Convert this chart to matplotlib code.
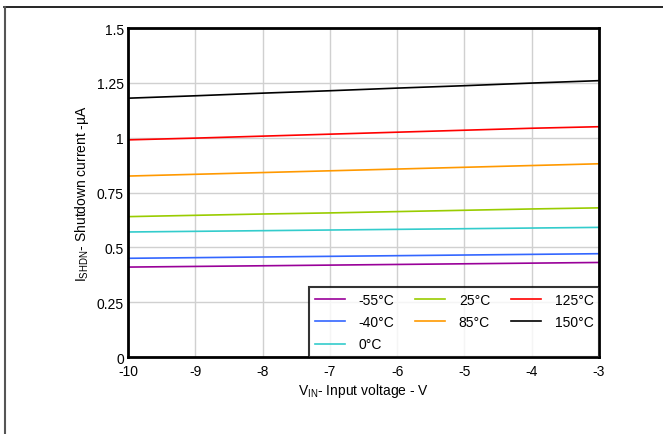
import numpy as np
import matplotlib.pyplot as plt
from matplotlib.lines import Line2D

plt.rcParams['font.family'] = ['Liberation Sans', 'DejaVu Sans']
plt.rcParams['mathtext.fontset'] = 'custom'
plt.rcParams['mathtext.rm'] = 'Liberation Sans'
plt.rcParams['mathtext.it'] = 'Liberation Sans'
plt.rcParams['axes.unicode_minus'] = False

vin = [-10, -9, -8, -7, -6, -5, -4, -3]
labels = ['-55°C', '-40°C', '0°C', '25°C', '85°C', '125°C', '150°C']
colors = ['#990099', '#3366ff', '#33cccc', '#99cc00', '#ff9900', '#ff0000', '#000000']
i_m55 = [0.410, 0.413, 0.416, 0.419, 0.422, 0.425, 0.428, 0.431]
i_m40 = [0.450, 0.453, 0.456, 0.459, 0.462, 0.465, 0.468, 0.471]
i_0 = [0.570, 0.573, 0.576, 0.579, 0.582, 0.585, 0.588, 0.591]
i_25 = [0.640, 0.646, 0.652, 0.657, 0.663, 0.669, 0.675, 0.680]
i_85 = [0.825, 0.833, 0.841, 0.849, 0.857, 0.865, 0.873, 0.881]
i_125 = [0.990, 0.998, 1.007, 1.016, 1.025, 1.034, 1.043, 1.050]
i_150 = [1.180, 1.191, 1.203, 1.214, 1.226, 1.237, 1.249, 1.260]
series = [i_m55, i_m40, i_0, i_25, i_85, i_125, i_150]

fig = plt.figure(figsize=(6.63, 4.35), dpi=100)
ax = fig.add_axes([0.193, 0.177, 0.7105, 0.7563])

for vals, lab, c in zip(series, labels, colors):
    ax.plot(vin, vals, color=c, lw=1.2, label=lab)

ax.set_xlim(-10, -3)
ax.set_ylim(0, 1.5)
ax.set_xticks(range(-10, -2))
ax.set_yticks([0, 0.25, 0.5, 0.75, 1, 1.25, 1.5])
ax.set_yticklabels(['0', '0.25', '0.5', '0.75', '1', '1.25', '1.5'])
ax.tick_params(length=0, labelsize=10)
ax.tick_params(axis='x', pad=5)
ax.tick_params(axis='y', pad=3)
ax.grid(True, color='#d0d0d0', lw=1)
for s in ax.spines.values():
    s.set_linewidth(2)
    s.set_color('black')

ax.set_xlabel('V$_{\\mathregular{IN}}$- Input voltage - V', fontsize=10, labelpad=2)
ax.set_ylabel('I$_{\\mathregular{SHDN}}$- Shutdown current -µA', fontsize=10, labelpad=4)

leg = ax.legend(ncol=3, loc='lower right', fontsize=10, frameon=True, fancybox=False,
                borderaxespad=0, handlelength=2.15, handletextpad=1.0,
                columnspacing=1.5, labelspacing=0.6, borderpad=0.4)
leg.get_frame().set_edgecolor('black')
leg.get_frame().set_linewidth(1.5)

fig.add_artist(Line2D([0.006, 1], [0.982, 0.982], color='black', lw=1.2, transform=fig.transFigure))
fig.add_artist(Line2D([0.007, 0.007], [0, 0.982], color='#555555', lw=1.5, transform=fig.transFigure))

fig.savefig('out.png', dpi=100)
